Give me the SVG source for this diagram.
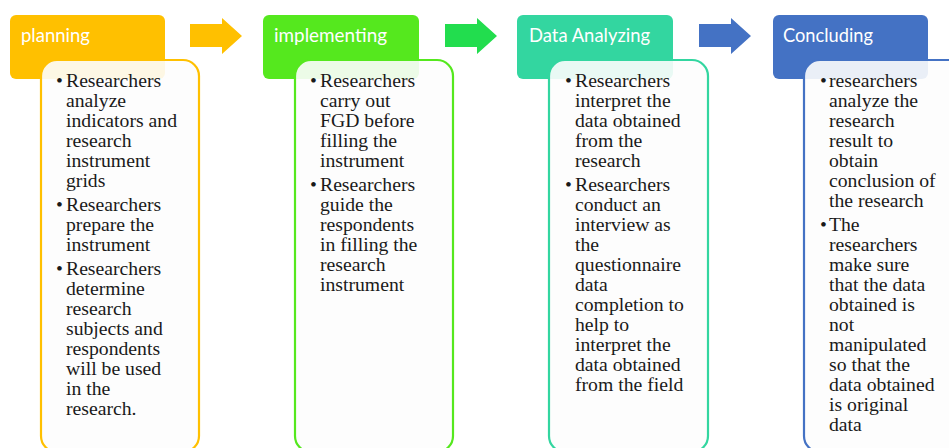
<svg xmlns="http://www.w3.org/2000/svg" width="949" height="448" viewBox="0 0 949 448">
  <style>
    .hdr-text { font-family: "Lato", "Open Sans", "Liberation Sans", sans-serif; font-size: 20px; fill: #ffffff; }
    .body { fill: #fdfdfd; fill-opacity: 0.9; stroke-width: 2.2; }
    .txt { font-family: "Liberation Serif", "Times New Roman", serif; font-size: 19.7px; fill: #1a1a1a; }
  </style>
  <rect width="949" height="448" fill="#ffffff"/>

  <!-- step arrows between stages -->
  <g id="connectors">
    <polygon points="190,24 222,24 222,18 242,36 222,54 222,47 190,47" fill="#ffc000"/>
    <polygon points="445,24 477,24 477,18 497,36 477,54 477,47 445,47" fill="#22dd4e"/>
    <polygon points="699,24 731,24 731,18 751,36 731,54 731,47 699,47" fill="#4472c4"/>
  </g>

  <!-- stage 1 -->
  <g id="planning">
    <rect x="10" y="15" width="155" height="64" rx="6" fill="#ffc000"/>
    <text class="hdr-text" x="21" y="42" textLength="69" lengthAdjust="spacingAndGlyphs">planning</text>
    <rect class="body" x="41" y="60" width="158" height="392" rx="16" stroke="#ffc000"/>
    <text class="txt">
      <tspan x="56" y="87">•</tspan><tspan x="66" y="87">Researchers</tspan>
      <tspan x="66" y="107">analyze</tspan>
      <tspan x="66" y="127">indicators and</tspan>
      <tspan x="66" y="147">research</tspan>
      <tspan x="66" y="167">instrument</tspan>
      <tspan x="66" y="187">grids</tspan>
      <tspan x="56" y="211">•</tspan><tspan x="66" y="211">Researchers</tspan>
      <tspan x="66" y="231">prepare the</tspan>
      <tspan x="66" y="251">instrument</tspan>
      <tspan x="56" y="275">•</tspan><tspan x="66" y="275">Researchers</tspan>
      <tspan x="66" y="295">determine</tspan>
      <tspan x="66" y="315">research</tspan>
      <tspan x="66" y="335">subjects and</tspan>
      <tspan x="66" y="355">respondents</tspan>
      <tspan x="66" y="375">will  be used</tspan>
      <tspan x="66" y="395">in  the</tspan>
      <tspan x="66" y="415">research.</tspan>
    </text>
  </g>

  <!-- stage 2 -->
  <g id="implementing">
    <rect x="263" y="15" width="156" height="64" rx="6" fill="#55e81e"/>
    <text class="hdr-text" x="274" y="42" textLength="113" lengthAdjust="spacingAndGlyphs">implementing</text>
    <rect class="body" x="295" y="60" width="158" height="392" rx="16" stroke="#55e81e"/>
    <text class="txt">
      <tspan x="310" y="87">•</tspan><tspan x="320" y="87">Researchers</tspan>
      <tspan x="320" y="107">carry out</tspan>
      <tspan x="320" y="127">FGD before</tspan>
      <tspan x="320" y="147">filling  the</tspan>
      <tspan x="320" y="167">instrument</tspan>
      <tspan x="310" y="191">•</tspan><tspan x="320" y="191">Researchers</tspan>
      <tspan x="320" y="211">guide the</tspan>
      <tspan x="320" y="231">respondents</tspan>
      <tspan x="320" y="251">in filling  the</tspan>
      <tspan x="320" y="271">research</tspan>
      <tspan x="320" y="291">instrument</tspan>
    </text>
  </g>

  <!-- stage 3 -->
  <g id="data-analyzing">
    <rect x="517" y="15" width="156" height="64" rx="6" fill="#33d6a0"/>
    <text class="hdr-text" x="529" y="42" textLength="121" lengthAdjust="spacingAndGlyphs">Data Analyzing</text>
    <rect class="body" x="549" y="60" width="159" height="392" rx="16" stroke="#33d6a0"/>
    <text class="txt">
      <tspan x="565" y="87">•</tspan><tspan x="575" y="87">Researchers</tspan>
      <tspan x="575" y="107">interpret  the</tspan>
      <tspan x="575" y="127">data obtained</tspan>
      <tspan x="575" y="147">from the</tspan>
      <tspan x="575" y="167">research</tspan>
      <tspan x="565" y="191">•</tspan><tspan x="575" y="191">Researchers</tspan>
      <tspan x="575" y="211">conduct an</tspan>
      <tspan x="575" y="231">interview  as</tspan>
      <tspan x="575" y="251">the</tspan>
      <tspan x="575" y="271">questionnaire</tspan>
      <tspan x="575" y="291">data</tspan>
      <tspan x="575" y="311">completion to</tspan>
      <tspan x="575" y="331">help to</tspan>
      <tspan x="575" y="351">interpret the</tspan>
      <tspan x="575" y="371">data obtained</tspan>
      <tspan x="575" y="391">from the field</tspan>
    </text>
  </g>

  <!-- stage 4 -->
  <g id="concluding">
    <rect x="773" y="15" width="155" height="64" rx="6" fill="#4472c4"/>
    <text class="hdr-text" x="783" y="42" textLength="90" lengthAdjust="spacingAndGlyphs">Concluding</text>
    <rect class="body" x="804" y="60" width="170" height="392" rx="16" stroke="#4472c4"/>
    <text class="txt">
      <tspan x="820" y="87">•</tspan><tspan x="829" y="87">researchers</tspan>
      <tspan x="829" y="107">analyze  the</tspan>
      <tspan x="829" y="127">research</tspan>
      <tspan x="829" y="147">result to</tspan>
      <tspan x="829" y="167">obtain</tspan>
      <tspan x="829" y="187">conclusion of</tspan>
      <tspan x="829" y="207">the research</tspan>
      <tspan x="820" y="231">•</tspan><tspan x="829" y="231">The</tspan>
      <tspan x="829" y="251">researchers</tspan>
      <tspan x="829" y="271">make sure</tspan>
      <tspan x="829" y="291">that the data</tspan>
      <tspan x="829" y="311">obtained is</tspan>
      <tspan x="829" y="331">not</tspan>
      <tspan x="829" y="351">manipulated</tspan>
      <tspan x="829" y="371">so that the</tspan>
      <tspan x="829" y="391">data obtained</tspan>
      <tspan x="829" y="411">is original</tspan>
      <tspan x="829" y="431">data</tspan>
    </text>
  </g>
</svg>
